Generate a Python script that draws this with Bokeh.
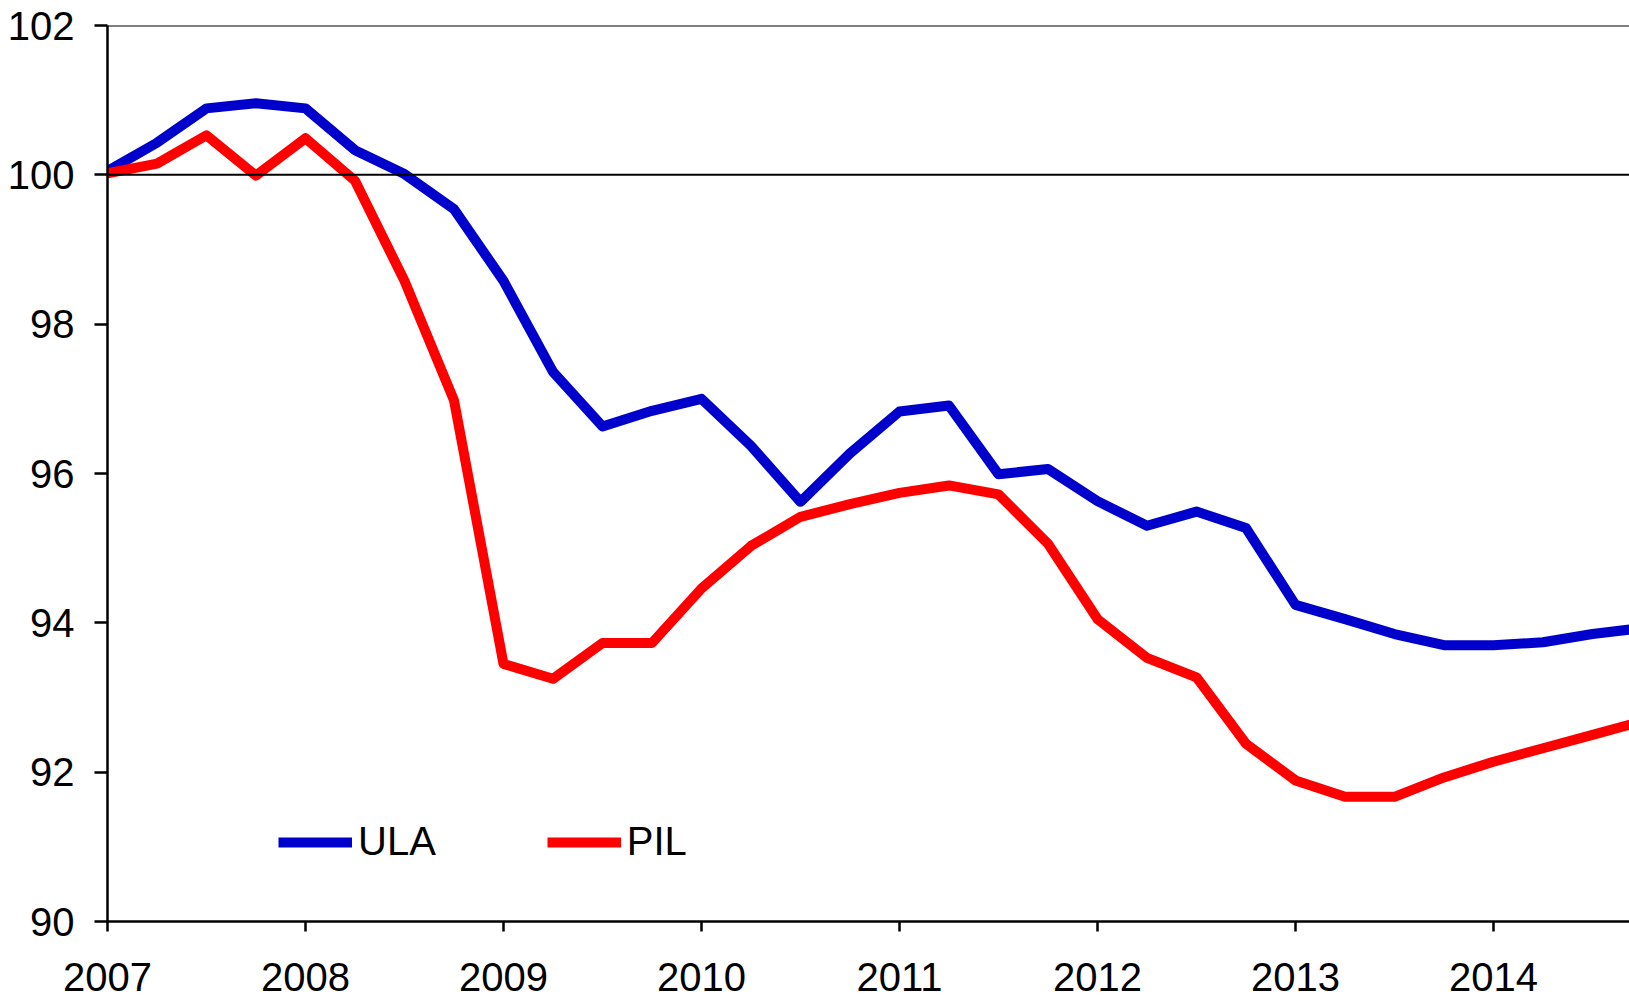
from bokeh.plotting import figure
from bokeh.models import Span, Range1d, FixedTicker, Legend, LegendItem
from bokeh.embed import file_html
from bokeh.resources import INLINE

# quarterly observations (decimal year)
quarters = [2007.00, 2007.25, 2007.50, 2007.75,
            2008.00, 2008.25, 2008.50, 2008.75,
            2009.00, 2009.25, 2009.50, 2009.75,
            2010.00, 2010.25, 2010.50, 2010.75,
            2011.00, 2011.25, 2011.50, 2011.75,
            2012.00, 2012.25, 2012.50, 2012.75,
            2013.00, 2013.25, 2013.50, 2013.75,
            2014.00, 2014.25, 2014.50, 2014.75]

ula = [100.05, 100.43, 100.89, 100.96,
       100.89, 100.33, 100.01, 99.54,
       98.58, 97.36, 96.63, 96.84,
       97.00, 96.37, 95.62, 96.27,
       96.83, 96.91, 95.99, 96.06,
       95.63, 95.30, 95.49, 95.27,
       94.24, 94.05, 93.85, 93.70,
       93.70, 93.74, 93.85, 93.93]

pil = [100.02, 100.15, 100.53, 99.99,
       100.49, 99.92, 98.58, 96.98,
       93.45, 93.25, 93.73, 93.73,
       94.46, 95.03, 95.42, 95.59,
       95.74, 95.84, 95.72, 95.06,
       94.05, 93.53, 93.27, 92.38,
       91.89, 91.67, 91.67, 91.93,
       92.14, 92.32, 92.50, 92.68]

year_ticks = [2007, 2008, 2009, 2010, 2011, 2012, 2013, 2014]
y_ticks = [90, 92, 94, 96, 98, 100, 102]

FONT = "Liberation Sans"

p = figure(width=1629, height=997, output_backend="svg", toolbar_location=None,
           x_range=Range1d(2007, 2014.687), y_range=Range1d(90, 102),
           min_border_left=107, min_border_right=0, min_border_top=25,
           min_border_bottom=76)
p.outline_line_color = None
p.xgrid.visible = False
p.ygrid.visible = False
p.background_fill_color = "white"
p.border_fill_color = "white"

for ax in (p.xaxis[0], p.yaxis[0]):
    ax.axis_line_color = "black"
    ax.axis_line_width = 2.5
    ax.major_tick_line_color = "black"
    ax.major_tick_line_width = 2.5
    ax.minor_tick_line_color = None
    ax.major_tick_in = 0
    ax.major_label_text_font = FONT
    ax.major_label_text_color = "black"
    ax.major_label_text_font_size = "40px"

p.xaxis.ticker = FixedTicker(ticks=year_ticks)
p.xaxis.major_tick_out = 10
p.xaxis.major_label_standoff = 31
p.yaxis.ticker = FixedTicker(ticks=y_ticks)
p.yaxis.major_tick_out = 13
p.yaxis.major_label_standoff = 20

for v in (100, 102):
    p.add_layout(Span(location=v, dimension="width", line_color="black", line_width=2))

r1 = p.line(quarters, ula, line_color="#0000CC", line_width=10, line_join="round")
r2 = p.line(quarters, pil, line_color="#FF0000", line_width=10, line_join="round")

legend = Legend(items=[LegendItem(label="ULA", renderers=[r1]),
                       LegendItem(label="PIL", renderers=[r2])],
                orientation="horizontal", location=(171, 57),
                glyph_width=74, glyph_height=40, label_height=40,
                label_standoff=6, spacing=111, padding=0, margin=0,
                border_line_color=None, background_fill_alpha=0,
                label_text_font=FONT, label_text_font_size="40px",
                label_text_color="black")
p.add_layout(legend, "center")

open("out.html", "w").write(file_html(p, INLINE))
